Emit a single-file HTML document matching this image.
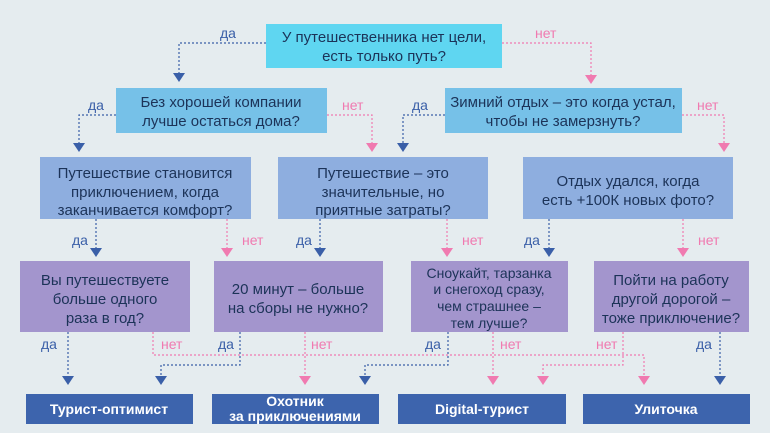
<!DOCTYPE html>
<html><head><meta charset="utf-8"><style>
html,body{margin:0;padding:0;background:#e5ecef;}
svg{display:block;}
text{font-family:"Liberation Sans Narrow","Liberation Sans",sans-serif;}
.t{font-size:15px;fill:#1c3358;text-anchor:middle;}
.s{font-size:14px;fill:#1c3358;text-anchor:middle;}
.b{font-size:14px;fill:#fff;font-weight:bold;text-anchor:middle;}
.da{font-size:14px;fill:#3a5fa8;}
.net{font-size:14px;fill:#f07ab0;}
.bl{stroke:#3a5fa8;stroke-width:1.2;stroke-dasharray:2,2;fill:none;}
.pk{stroke:#f07ab0;stroke-width:1.2;stroke-dasharray:2,2;fill:none;}
</style></head><body>
<svg width="770" height="433" viewBox="0 0 770 433" xmlns="http://www.w3.org/2000/svg">
<rect width="770" height="433" fill="#e5ecef"/>
<defs>
<polygon id="ab" points="-6,0 6,0 0,9" fill="#3a5fa8"/>
<polygon id="ap" points="-6,0 6,0 0,9" fill="#f07ab0"/>
</defs>
<path class="bl" d="M266 43 H179 V73"/><use href="#ab" x="179" y="73"/>
<path class="pk" d="M502 43 H591 V75"/><use href="#ap" x="591" y="75"/>
<path class="bl" d="M116 115 H79 V143"/><use href="#ab" x="79" y="143"/>
<path class="pk" d="M327 115 H372 V143"/><use href="#ap" x="372" y="143"/>
<path class="bl" d="M445 115 H403 V143"/><use href="#ab" x="403" y="143"/>
<path class="pk" d="M682 115 H724 V143"/><use href="#ap" x="724" y="143"/>

<path class="bl" d="M96 219 V248"/><use href="#ab" x="96" y="248"/>
<path class="pk" d="M227 219 V248"/><use href="#ap" x="227" y="248"/>
<path class="bl" d="M320 219 V248"/><use href="#ab" x="320" y="248"/>
<path class="pk" d="M447 219 V248"/><use href="#ap" x="447" y="248"/>
<path class="bl" d="M549 219 V248"/><use href="#ab" x="549" y="248"/>
<path class="pk" d="M683 219 V248"/><use href="#ap" x="683" y="248"/>

<path class="bl" d="M68 332 V376"/><use href="#ab" x="68" y="376"/>
<path class="pk" d="M153 332 V355 H644 V376"/><use href="#ap" x="644" y="376"/>
<path class="bl" d="M240 332 V365 H161 V376"/><use href="#ab" x="161" y="376"/>
<path class="pk" d="M305 332 V376"/><use href="#ap" x="305" y="376"/>
<path class="bl" d="M448 332 V365 H365 V376"/><use href="#ab" x="365" y="376"/>
<path class="pk" d="M493 332 V376"/><use href="#ap" x="493" y="376"/>
<path class="pk" d="M623 332 V365 H543 V376"/><use href="#ap" x="543" y="376"/>
<path class="bl" d="M720 332 V376"/><use href="#ab" x="720" y="376"/>

<text class="da" x="220" y="38">да</text><text class="net" x="535" y="38">нет</text>
<text class="da" x="88" y="110">да</text><text class="net" x="342" y="110">нет</text>
<text class="da" x="412" y="110">да</text><text class="net" x="697" y="110">нет</text>
<text class="da" x="72" y="245">да</text><text class="net" x="242" y="245">нет</text>
<text class="da" x="296" y="245">да</text><text class="net" x="462" y="245">нет</text>
<text class="da" x="524" y="245">да</text><text class="net" x="698" y="245">нет</text>
<text class="da" x="41" y="349">да</text><text class="net" x="161" y="349">нет</text>
<text class="da" x="218" y="349">да</text><text class="net" x="311" y="349">нет</text>
<text class="da" x="425" y="349">да</text><text class="net" x="500" y="349">нет</text>
<text class="net" x="596" y="349">нет</text><text class="da" x="696" y="349">да</text>

<rect x="266" y="24" width="236" height="44" fill="#5fd6f1"/>
<text class="t" x="384" y="42">У путешественника нет цели,</text>
<text class="t" x="384" y="61">есть только путь?</text>

<rect x="116" y="88" width="211" height="45" fill="#76c1e8"/>
<text class="t" x="221" y="107">Без хорошей компании</text>
<text class="t" x="221" y="126">лучше остаться дома?</text>
<rect x="445" y="88" width="237" height="45" fill="#76c1e8"/>
<text class="t" x="563" y="107">Зимний отдых – это когда устал,</text>
<text class="t" x="563" y="126">чтобы не замерзнуть?</text>

<rect x="40" y="157" width="211" height="62" fill="#8eaedf"/>
<text class="t" x="145" y="178">Путешествие становится</text>
<text class="t" x="145" y="197">приключением, когда</text>
<text class="t" x="145" y="215">заканчивается комфорт?</text>
<rect x="278" y="157" width="210" height="62" fill="#8eaedf"/>
<text class="t" x="383" y="178">Путешествие – это</text>
<text class="t" x="383" y="197">значительные, но</text>
<text class="t" x="383" y="215">приятные  затраты?</text>
<rect x="523" y="157" width="210" height="62" fill="#8eaedf"/>
<text class="t" x="628" y="186">Отдых удался, когда</text>
<text class="t" x="628" y="205">есть +100К новых фото?</text>

<rect x="20" y="261" width="170" height="71" fill="#a395cd"/>
<text class="t" x="105" y="285">Вы путешествуете</text>
<text class="t" x="105" y="304">больше одного</text>
<text class="t" x="105" y="323">раза в год?</text>
<rect x="214" y="261" width="169" height="71" fill="#a395cd"/>
<text class="t" x="298" y="294">20 минут – больше</text>
<text class="t" x="298" y="313">на сборы не нужно?</text>
<rect x="411" y="261" width="157" height="71" fill="#a395cd"/>
<text class="s" x="489" y="278">Сноукайт, тарзанка</text>
<text class="s" x="489" y="294">и снегоход сразу,</text>
<text class="s" x="489" y="311">чем страшнее –</text>
<text class="s" x="489" y="328">тем лучше?</text>
<rect x="594" y="261" width="155" height="71" fill="#a395cd"/>
<text class="t" x="671" y="285">Пойти на работу</text>
<text class="t" x="671" y="304">другой дорогой –</text>
<text class="t" x="671" y="323">тоже приключение?</text>

<rect x="26" y="394" width="167" height="30" fill="#3d64ad"/>
<text class="b" x="109" y="414">Турист-оптимист</text>
<rect x="212" y="394" width="167" height="30" fill="#3d64ad"/>
<text class="b" x="295" y="406">Охотник</text>
<text class="b" x="295" y="421">за приключениями</text>
<rect x="398" y="394" width="168" height="30" fill="#3d64ad"/>
<text class="b" x="482" y="414">Digital-турист</text>
<rect x="583" y="394" width="167" height="30" fill="#3d64ad"/>
<text class="b" x="666" y="414">Улиточка</text>
</svg>
</body></html>
